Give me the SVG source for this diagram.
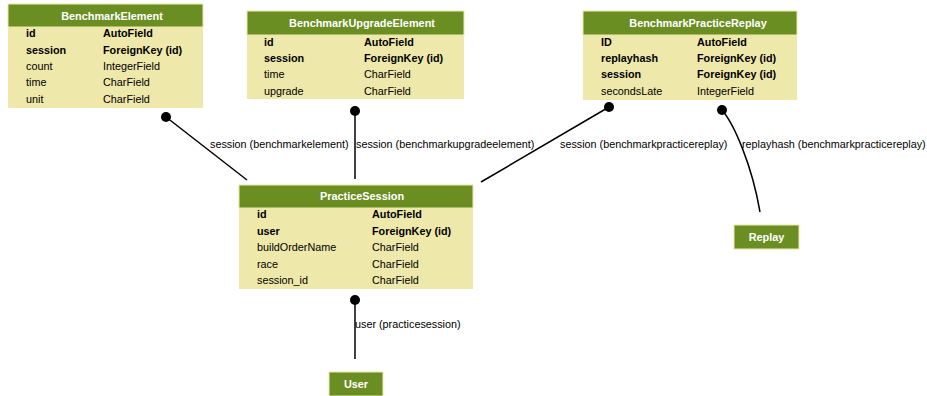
<svg xmlns="http://www.w3.org/2000/svg" width="927" height="396" viewBox="0 0 927 396">
<style>
text{font-family:"Liberation Sans",Arial,sans-serif;font-size:10.8px;fill:#000}
.hd{fill:#6b8e23;stroke:#eee8aa;stroke-width:1}
.bd{fill:#eee8aa}
.ht{fill:#fff;font-weight:bold;text-anchor:middle;font-size:10.9px}
.b{font-weight:bold}
.ln{fill:none;stroke:#000;stroke-width:1.5}
.dot{fill:#000}
.lbl{font-size:10.8px}
</style>
<rect width="927" height="396" fill="#fff"/>
<g id="BenchmarkElement">
<rect class="bd" x="8" y="27" width="195" height="81"/>
<rect class="hd" x="8" y="4" width="195" height="23"/>
<text class="ht" x="112" y="19.5">BenchmarkElement</text>
<text class="b" x="26" y="37">id</text><text class="b" x="103" y="37">AutoField</text>
<text class="b" x="26" y="54">session</text><text class="b" x="103" y="54">ForeignKey (id)</text>
<text x="26" y="70">count</text><text x="103" y="70">IntegerField</text>
<text x="26" y="86">time</text><text x="103" y="86">CharField</text>
<text x="26" y="103">unit</text><text x="103" y="103">CharField</text>
</g>
<g id="BenchmarkUpgradeElement">
<rect class="bd" x="247" y="35" width="217" height="64"/>
<rect class="hd" x="247" y="11" width="217" height="24"/>
<text class="ht" x="362" y="27">BenchmarkUpgradeElement</text>
<text class="b" x="264" y="46">id</text><text class="b" x="364" y="46">AutoField</text>
<text class="b" x="264" y="62">session</text><text class="b" x="364" y="62">ForeignKey (id)</text>
<text x="264" y="78">time</text><text x="364" y="78">CharField</text>
<text x="264" y="95">upgrade</text><text x="364" y="95">CharField</text>
</g>
<g id="BenchmarkPracticeReplay">
<rect class="bd" x="583" y="35" width="214" height="65"/>
<rect class="hd" x="583" y="11" width="214" height="24"/>
<text class="ht" x="698" y="27">BenchmarkPracticeReplay</text>
<text class="b" x="601" y="46">ID</text><text class="b" x="697" y="46">AutoField</text>
<text class="b" x="601" y="62">replayhash</text><text class="b" x="697" y="62">ForeignKey (id)</text>
<text class="b" x="601" y="78">session</text><text class="b" x="697" y="78">ForeignKey (id)</text>
<text x="601" y="95">secondsLate</text><text x="697" y="95">IntegerField</text>
</g>
<g id="PracticeSession">
<rect class="bd" x="239" y="208" width="234" height="81"/>
<rect class="hd" x="239" y="185" width="234" height="23"/>
<text class="ht" x="362" y="200">PracticeSession</text>
<text class="b" x="257" y="218">id</text><text class="b" x="372" y="218">AutoField</text>
<text class="b" x="257" y="235">user</text><text class="b" x="372" y="235">ForeignKey (id)</text>
<text x="257" y="251">buildOrderName</text><text x="372" y="251">CharField</text>
<text x="257" y="268">race</text><text x="372" y="268">CharField</text>
<text x="257" y="284">session_id</text><text x="372" y="284">CharField</text>
</g>
<g id="Replay">
<rect class="hd" x="734" y="225" width="65" height="24"/>
<text class="ht" x="766.5" y="241">Replay</text>
</g>
<g id="User">
<rect class="hd" x="329" y="372" width="54" height="24"/>
<text class="ht" x="356" y="388">User</text>
</g>
<g id="connectors">
<path class="ln" d="M166,117 L247,180"/>
<circle class="dot" cx="166" cy="117" r="5"/>
<text class="lbl" x="210" y="148">session (benchmarkelement)</text>
<path class="ln" d="M355,111 L355,179"/>
<circle class="dot" cx="355" cy="111" r="5"/>
<text class="lbl" x="356" y="148">session (benchmarkupgradeelement)</text>
<path class="ln" d="M609,107 L481,182"/>
<circle class="dot" cx="609" cy="107" r="5"/>
<text class="lbl" x="560" y="148">session (benchmarkpracticereplay)</text>
<path class="ln" d="M722,110 C734,124 752,165 760,212"/>
<circle class="dot" cx="722" cy="110" r="5"/>
<text class="lbl" x="742" y="148">replayhash (benchmarkpracticereplay)</text>
<path class="ln" d="M355,300 L355,359"/>
<circle class="dot" cx="355" cy="300" r="5"/>
<text class="lbl" x="355" y="328">user (practicesession)</text>
</g>
</svg>
